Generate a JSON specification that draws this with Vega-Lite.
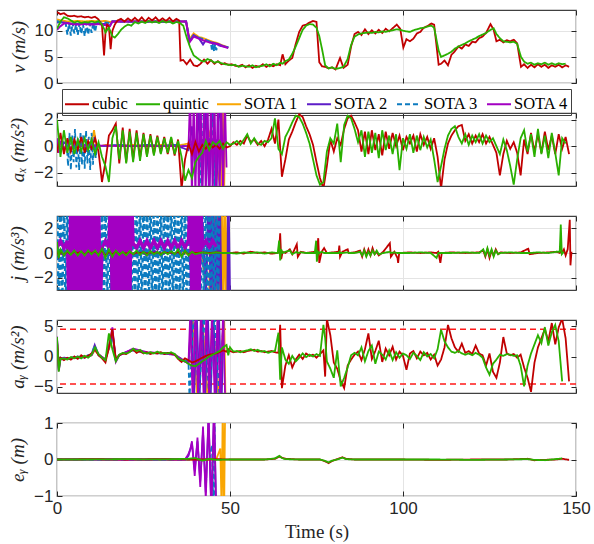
{
"$schema": "https://vega.github.io/schema/vega-lite/v6.json",
"padding": {"left": 8, "top": 8, "right": 5, "bottom": 5},
"background": "white",
"spacing": 30,
"bounds": "flush",
"config": {
"view": {"stroke": "#404040", "strokeWidth": 1.2},
"axis": {"domain": false, "grid": true, "gridColor": "#e4e4e4", "tickColor": "#262626", "tickSize": -5, "tickWidth": 1, "labelFont": "Liberation Sans, Arial, Helvetica, sans-serif", "labelFontSize": 17, "labelColor": "#262626", "labelPadding": 9, "labelFlush": false, "labelOverlap": false, "titleFont": "Liberation Serif, Times New Roman, Times, DejaVu Serif, serif", "titleFontSize": 19, "titleFontStyle": "italic", "titleFontWeight": "normal", "titleColor": "#262626", "titlePadding": 6},
"legend": {"symbolType": "stroke", "symbolSize": 576, "symbolStrokeWidth": 2, "labelFont": "Liberation Serif, Times New Roman, Times, DejaVu Serif, serif", "labelFontSize": 16.5, "labelColor": "black", "labelOffset": 2, "columnPadding": 4, "padding": 2, "strokeColor": "#404040", "fillColor": "white"}
},
"resolve": {"scale": {"color": "independent", "strokeDash": "independent"}, "legend": {"color": "independent", "strokeDash": "independent"}},
"datasets": {
"vC": [
{"t":0,"c":13.6,"q":10.4},{"t":1,"c":13.2,"q":11.8},{"t":2,"c":13.4,"q":12.6},{"t":3,"c":12.9,"q":12.4},{"t":4,"c":12.8,"q":12.0},{"t":5,"c":12.9,"q":11.6},{"t":6,"c":12.7,"q":11.8},{"t":7,"c":12.8,"q":11.5},{"t":8,"c":12.6,"q":11.7},{"t":9,"c":12.7,"q":11.6},{"t":10,"c":12.5,"q":11.8},{"t":11,"c":12.7,"q":11.6},{"t":12,"c":12.2,"q":11.9},{"t":13,"c":11.0,"q":11.2},{"t":13.6,"c":5.3,"q":10.4},{"t":14,"c":9.5,"q":9.7},{"t":14.5,"c":11.2,"q":10.2},{"t":15,"c":10.8,"q":10.6},{"t":15.5,"c":6.5,"q":9.8},{"t":16,"c":10.0,"q":9.0},{"t":16.7,"c":11.2,"q":8.7},{"t":17.5,"c":12.0,"q":9.3},{"t":18.5,"c":12.3,"q":10.2},{"t":19.5,"c":11.8,"q":10.8},{"t":20.5,"c":12.4,"q":11.2},{"t":21.5,"c":11.9,"q":11.0},{"t":22.5,"c":12.5,"q":11.7},{"t":23.5,"c":11.9,"q":11.4},{"t":24.5,"c":12.6,"q":11.8},{"t":25.5,"c":11.8,"q":11.5},{"t":26.5,"c":12.5,"q":11.9},{"t":27.5,"c":12.0,"q":11.6},{"t":28.5,"c":12.6,"q":11.8},{"t":29.5,"c":11.9,"q":11.5},{"t":30.5,"c":12.4,"q":11.9},{"t":31.5,"c":11.9,"q":11.6},{"t":32.5,"c":12.5,"q":11.8},{"t":33.5,"c":11.8,"q":11.4},{"t":34.5,"c":12.3,"q":11.7},{"t":35.3,"c":12.0,"q":11.6},{"t":35.7,"c":4.3,"q":11.4},{"t":36.5,"c":4.4,"q":11.0},{"t":37.5,"c":3.6,"q":8.7},{"t":38.5,"c":4.5,"q":6.8},{"t":39.5,"c":3.4,"q":5.3},{"t":40.5,"c":3.2,"q":4.8},{"t":41.5,"c":3.7,"q":4.3},{"t":42.5,"c":4.5,"q":4.1},{"t":43.5,"c":3.7,"q":4.6},{"t":44.5,"c":4.4,"q":4.3},{"t":45.5,"c":3.7,"q":3.9},{"t":46.5,"c":4.2,"q":4.1},{"t":47.5,"c":3.6,"q":3.8},{"t":48.5,"c":3.8,"q":3.6},{"t":49.5,"c":3.5,"q":3.5},{"t":50.5,"c":3.6,"q":3.4},{"t":51.5,"c":3.3,"q":3.5},{"t":52.5,"c":3.2,"q":3.1},{"t":53.5,"c":3.5,"q":3.3},{"t":54.5,"c":3.0,"q":3.2},{"t":55.5,"c":3.4,"q":3.1},{"t":56.5,"c":2.9,"q":3.4},{"t":57.5,"c":3.3,"q":3.0},{"t":58.5,"c":3.1,"q":3.2},{"t":59.5,"c":3.6,"q":3.3},{"t":60.5,"c":3.1,"q":3.6},{"t":61.5,"c":3.5,"q":3.2},{"t":62.5,"c":3.2,"q":3.7},{"t":63.5,"c":3.6,"q":3.4},{"t":64.5,"c":3.4,"q":3.9},{"t":65.2,"c":5.5,"q":3.7},{"t":66,"c":3.6,"q":4.2},{"t":67,"c":4.3,"q":4.5},{"t":68,"c":4.8,"q":5.6},{"t":69,"c":7.5,"q":7.0},{"t":70,"c":9.8,"q":8.6},{"t":71,"c":11.0,"q":10.2},{"t":72,"c":11.2,"q":11.0},{"t":73,"c":11.6,"q":11.3},{"t":74,"c":11.9,"q":11.2},{"t":75,"c":11.7,"q":10.6},{"t":75.8,"c":4.0,"q":9.0},{"t":76.6,"c":3.2,"q":6.5},{"t":77.5,"c":3.1,"q":3.4},{"t":78.5,"c":2.8,"q":2.8},{"t":79.5,"c":3.0,"q":3.0},{"t":80.5,"c":2.6,"q":2.7},{"t":81.8,"c":4.8,"q":2.9},{"t":82.8,"c":2.9,"q":3.1},{"t":84,"c":3.5,"q":4.6},{"t":85,"c":7.0,"q":7.3},{"t":86,"c":9.4,"q":8.9},{"t":87,"c":9.8,"q":9.3},{"t":88,"c":9.2,"q":9.5},{"t":89,"c":10.3,"q":9.6},{"t":90,"c":9.4,"q":9.7},{"t":91,"c":10.1,"q":9.6},{"t":92,"c":9.5,"q":9.8},{"t":93,"c":10.2,"q":9.7},{"t":94,"c":9.6,"q":9.9},{"t":95,"c":10.4,"q":9.8},{"t":96,"c":9.9,"q":10.0},{"t":97,"c":10.5,"q":10.1},{"t":98.2,"c":11.2,"q":10.3},{"t":99.2,"c":10.4,"q":10.2},{"t":100.1,"c":6.8,"q":10.0},{"t":101,"c":8.4,"q":9.9},{"t":102,"c":8.0,"q":9.8},{"t":103,"c":8.5,"q":10.1},{"t":104,"c":9.5,"q":10.3},{"t":105,"c":9.8,"q":10.5},{"t":106,"c":10.6,"q":10.6},{"t":107,"c":10.9,"q":10.8},{"t":108.2,"c":11.4,"q":11.0},{"t":109,"c":11.2,"q":10.6},{"t":110.3,"c":3.5,"q":6.2},{"t":111,"c":3.7,"q":5.0},{"t":112,"c":4.3,"q":5.3},{"t":113,"c":3.4,"q":5.6},{"t":114,"c":5.4,"q":6.0},{"t":115,"c":6.1,"q":6.6},{"t":116,"c":7.0,"q":7.0},{"t":117,"c":6.6,"q":7.3},{"t":118,"c":7.4,"q":7.6},{"t":119,"c":7.1,"q":8.0},{"t":120,"c":7.9,"q":8.3},{"t":121,"c":7.8,"q":8.6},{"t":122,"c":8.6,"q":9.0},{"t":123,"c":8.9,"q":9.3},{"t":124,"c":9.6,"q":9.6},{"t":125.3,"c":11.3,"q":10.2},{"t":126.2,"c":10.2,"q":10.5},{"t":127,"c":8.0,"q":9.4},{"t":128,"c":8.3,"q":8.6},{"t":129,"c":7.8,"q":8.0},{"t":130,"c":8.2,"q":7.9},{"t":131,"c":8.0,"q":7.8},{"t":132,"c":8.3,"q":7.9},{"t":133,"c":7.6,"q":7.5},{"t":134.1,"c":3.1,"q":5.0},{"t":135,"c":3.6,"q":4.1},{"t":136,"c":2.9,"q":3.7},{"t":137,"c":3.5,"q":3.9},{"t":138,"c":3.0,"q":3.5},{"t":139,"c":3.6,"q":3.8},{"t":140,"c":3.1,"q":3.6},{"t":141,"c":3.5,"q":3.9},{"t":142,"c":2.9,"q":3.5},{"t":143,"c":3.4,"q":3.8},{"t":144,"c":3.1,"q":3.5},{"t":145,"c":3.5,"q":3.8},{"t":146,"c":3.0,"q":3.6},{"t":147,"c":3.4,"q":3.7},{"t":148,"c":3.1}
],
"vS": [
{"t":0,"S1":12.2,"S2":11.6,"S3":11.9,"S4":10.2},{"t":1,"S1":12.0,"S2":11.7,"S3":11.6,"S4":10.9},{"t":2,"S1":11.9,"S2":11.6,"S3":11.4,"S4":11.4},{"t":2.5,"S3":11.5},{"t":3,"S1":11.8,"S2":11.5,"S3":9.3,"S4":11.5},{"t":3.5,"S3":11.4},{"t":4,"S1":11.8,"S2":11.4,"S3":9.1,"S4":11.3},{"t":4.5,"S3":11.6},{"t":5,"S3":9.5},{"t":5.5,"S3":11.2},{"t":6,"S1":11.9,"S2":11.3,"S3":9.2,"S4":11.2},{"t":6.5,"S3":11.5},{"t":7,"S3":9.4},{"t":7.5,"S3":11.3},{"t":8,"S1":11.8,"S2":11.4,"S3":9.0,"S4":11.3},{"t":8.5,"S3":11.6},{"t":9,"S3":9.3},{"t":9.5,"S3":11.4},{"t":10,"S1":11.9,"S2":11.3,"S3":9.6,"S4":11.2},{"t":10.5,"S3":11.5},{"t":11,"S3":9.8},{"t":11.5,"S3":11.6},{"t":12,"S1":11.8,"S2":11.4,"S3":11.7,"S4":11.3},{"t":14,"S1":11.9,"S2":11.3,"S3":11.6,"S4":11.1},{"t":15.3,"S1":11.7,"S2":11.0,"S3":11.5,"S4":10.9},{"t":16,"S1":11.8,"S2":11.8,"S3":11.8,"S4":11.8},{"t":25,"S1":11.8,"S2":11.8,"S3":11.7,"S4":11.8},{"t":37.3,"S1":11.8,"S2":11.8,"S3":11.8,"S4":11.8},{"t":38.3,"S1":8.4,"S2":8.0,"S3":8.2,"S4":7.8},{"t":39.5,"S1":9.5,"S2":9.2,"S3":9.0,"S4":8.9},{"t":41,"S1":8.8,"S2":8.6,"S3":8.7,"S4":8.5},{"t":42.2,"S1":8.6,"S2":7.4,"S3":8.4,"S4":8.2},{"t":43,"S1":8.4,"S2":8.2,"S3":8.2,"S4":8.0},{"t":44.5,"S1":8.0,"S2":7.8,"S3":7.8,"S4":7.7},{"t":44.8,"S3":6.2},{"t":45.1,"S3":7.6},{"t":45.4,"S3":6.1},{"t":45.7,"S3":7.5},{"t":46,"S3":6.3},{"t":46.5,"S1":7.6,"S2":7.5,"S3":7.3,"S4":7.4},{"t":47.5,"S1":7.3,"S2":7.2,"S3":7.1,"S4":7.1},{"t":49.5,"S1":6.8,"S2":6.8,"S3":6.8,"S4":6.7}
],
"axC": [
{"t":0,"c":-0.5,"q":2.0},{"t":1,"c":1.0,"q":-0.8},{"t":2,"c":-0.6,"q":1.2},{"t":3,"c":0.6,"q":-0.5},{"t":4,"c":-0.4,"q":0.7},{"t":5,"c":0.5,"q":-0.6},{"t":6,"c":-0.3,"q":0.5},{"t":7,"c":0.7,"q":-0.4},{"t":8,"c":-0.5,"q":0.6},{"t":9,"c":0.4,"q":-0.3},{"t":10,"c":-0.2,"q":0.5},{"t":11,"c":0.6,"q":-0.6},{"t":12,"c":-0.4,"q":0.3},{"t":13,"c":-2.7,"q":-0.8},{"t":14,"c":-1.2,"q":-1.5},{"t":15,"c":0.8,"q":-2.7},{"t":16,"c":1.2,"q":0.6},{"t":17,"c":1.7,"q":1.5},{"t":18,"c":-1.3,"q":-1.0},{"t":19,"c":1.4,"q":1.2},{"t":20,"c":-1.2,"q":-1.3},{"t":21,"c":1.3,"q":1.1},{"t":22,"c":-1.0,"q":-1.2},{"t":23,"c":1.2,"q":1.0},{"t":24,"c":-0.9,"q":-1.1},{"t":25,"c":1.0,"q":0.9},{"t":26,"c":-0.7,"q":-0.8},{"t":27,"c":0.9,"q":0.8},{"t":28,"c":-0.6,"q":-0.7},{"t":29,"c":0.8,"q":0.7},{"t":30,"c":-0.5,"q":-0.6},{"t":31,"c":0.7,"q":0.6},{"t":32,"c":-0.6,"q":-0.5},{"t":33,"c":0.6,"q":0.7},{"t":34,"c":-0.7,"q":-0.6},{"t":35,"c":0.5,"q":0.4},{"t":36,"c":-3.2,"q":-0.8},{"t":37,"c":-1.0,"q":-2.6},{"t":38,"c":0.2,"q":-1.8},{"t":39,"c":-0.6,"q":-2.4},{"t":40,"c":0.3,"q":-1.2},{"t":41,"c":-0.4,"q":-0.8},{"t":42,"c":0.1,"q":-0.5},{"t":43,"c":-0.2,"q":0.4},{"t":44,"c":0.2,"q":-0.3},{"t":45,"c":-0.1,"q":0.3},{"t":46,"c":0.1,"q":0.1},{"t":47,"c":-0.2,"q":0.4},{"t":48,"c":0.2,"q":-0.2},{"t":49,"c":-0.1,"q":0.3},{"t":50,"c":0.0,"q":0.1},{"t":51,"c":0.3,"q":0.2},{"t":52,"c":0.1,"q":0.4},{"t":53,"c":0.4,"q":0.1},{"t":54,"c":0.2,"q":0.5},{"t":55,"c":0.8,"q":0.9},{"t":56,"c":0.3,"q":0.2},{"t":57,"c":0.5,"q":0.6},{"t":58,"c":0.1,"q":0.2},{"t":59,"c":0.4,"q":0.1},{"t":60,"c":0.0,"q":0.4},{"t":61,"c":0.5,"q":0.3},{"t":62,"c":1.3,"q":0.6},{"t":63,"c":0.2,"q":2.1},{"t":64,"c":2.0,"q":-0.2},{"t":65,"c":-2.3,"q":-0.6},{"t":66,"c":-1.0,"q":0.7},{"t":67,"c":0.5,"q":1.2},{"t":68,"c":1.1,"q":1.8},{"t":69,"c":1.8,"q":2.3},{"t":70,"c":2.4,"q":2.2},{"t":71,"c":2.2,"q":1.7},{"t":72,"c":1.5,"q":1.0},{"t":73,"c":0.9,"q":0.2},{"t":74,"c":0.1,"q":-1.0},{"t":75,"c":-1.2,"q":-2.2},{"t":76,"c":-2.4,"q":-2.9},{"t":77,"c":-3.2,"q":-2.7},{"t":78,"c":-1.5,"q":-0.4},{"t":79,"c":0.5,"q":0.6},{"t":80,"c":-0.4,"q":0.2},{"t":81,"c":0.6,"q":1.7},{"t":82,"c":0.1,"q":-1.2},{"t":83,"c":1.3,"q":1.6},{"t":84,"c":2.1,"q":2.3},{"t":85,"c":2.3,"q":2.1},{"t":86,"c":1.8,"q":1.3},{"t":87,"c":1.2,"q":0.3},{"t":88,"c":-0.4,"q":1.2},{"t":89,"c":1.1,"q":-0.8},{"t":90,"c":-0.6,"q":1.1},{"t":91,"c":1.2,"q":-0.5},{"t":92,"c":-0.3,"q":1.0},{"t":93,"c":0.9,"q":-0.9},{"t":94,"c":-0.7,"q":1.2},{"t":95,"c":1.1,"q":-0.3},{"t":96,"c":-0.2,"q":0.8},{"t":97,"c":1.0,"q":-0.6},{"t":98,"c":0.0,"q":0.9},{"t":99,"c":0.8,"q":-1.8},{"t":100,"c":-0.3,"q":0.6},{"t":101,"c":0.7,"q":-0.2},{"t":102,"c":0.2,"q":0.9},{"t":103,"c":0.8,"q":-0.5},{"t":104,"c":-0.4,"q":0.8},{"t":105,"c":0.9,"q":-0.3},{"t":106,"c":0.1,"q":0.7},{"t":107,"c":0.7,"q":-0.1},{"t":108,"c":-0.2,"q":0.5},{"t":109,"c":0.6,"q":-1.0},{"t":110,"c":-0.8,"q":-2.7},{"t":111,"c":-3.2,"q":-1.5},{"t":112,"c":-1.0,"q":-0.2},{"t":113,"c":0.2,"q":0.8},{"t":114,"c":0.8,"q":1.3},{"t":115,"c":1.2,"q":1.5},{"t":116,"c":1.5,"q":0.7},{"t":117,"c":1.6,"q":0.2},{"t":118,"c":0.4,"q":0.9},{"t":119,"c":0.9,"q":0.1},{"t":120,"c":0.2,"q":0.8},{"t":121,"c":0.8,"q":0.3},{"t":122,"c":0.3,"q":0.9},{"t":123,"c":0.9,"q":0.2},{"t":124,"c":0.2,"q":0.8},{"t":125,"c":0.7,"q":0.3},{"t":126,"c":0.1,"q":0.6},{"t":127,"c":-0.5,"q":0.0},{"t":128,"c":-2.2,"q":-0.6},{"t":129,"c":-0.6,"q":0.5},{"t":130,"c":0.4,"q":-0.3},{"t":131,"c":-0.2,"q":-1.5},{"t":132,"c":0.3,"q":-2.9},{"t":133,"c":-0.5,"q":-1.0},{"t":134,"c":-2.2,"q":0.6},{"t":135,"c":0.5,"q":1.2},{"t":136,"c":-0.6,"q":-0.4},{"t":137,"c":1.0,"q":0.9},{"t":138,"c":-0.4,"q":-0.8},{"t":139,"c":0.9,"q":1.3},{"t":140,"c":-0.5,"q":-0.6},{"t":141,"c":1.1,"q":0.8},{"t":142,"c":-0.3,"q":-0.9},{"t":143,"c":0.8,"q":1.0},{"t":144,"c":-0.6,"q":-0.5},{"t":145,"c":0.9,"q":-2.2},{"t":146,"c":-0.2,"q":0.6},{"t":147,"c":0.7,"q":0.2},{"t":148,"c":-0.6}
],
"axS": [
{"t":0,"S1":0.3,"S2":0.5,"S3":0.2,"S4":0.6},{"t":0.5,"S4":-0.5},{"t":1,"S2":-0.4,"S3":-0.3,"S4":0.4},{"t":2,"S1":-0.2,"S2":0.3,"S3":0.1,"S4":-0.3},{"t":2.8,"S3":0.2},{"t":3,"S4":0.3},{"t":3.2,"S3":-1.5},{"t":3.6,"S3":1.0},{"t":4,"S1":0.2,"S2":-0.2,"S3":-1.8,"S4":-0.2},{"t":4.4,"S3":0.8},{"t":4.8,"S3":-1.2},{"t":5,"S4":0.2},{"t":5.2,"S3":1.3},{"t":5.6,"S3":-1.6},{"t":6,"S1":-0.1,"S2":0.2,"S3":0.6,"S4":-0.1},{"t":6.4,"S3":-1.8},{"t":6.8,"S3":1.1},{"t":7.2,"S3":-1.4},{"t":7.6,"S3":0.9},{"t":8,"S1":0.1,"S2":-0.1,"S3":-1.7,"S4":0.1},{"t":8.4,"S3":1.2},{"t":8.8,"S3":-1.3},{"t":9.2,"S3":0.7},{"t":9.6,"S3":-1.8},{"t":10,"S1":0.2,"S2":0.1,"S3":1.0,"S4":0},{"t":10.4,"S3":-1.4},{"t":10.7,"S1":1.2},{"t":10.8,"S3":0.8},{"t":11.2,"S3":-0.9},{"t":11.5,"S1":-0.1},{"t":11.6,"S3":0.1},{"t":14,"S1":0.1,"S2":0,"S3":0,"S4":0.05},{"t":18,"S1":0,"S2":0.1,"S3":0.1,"S4":0},{"t":22,"S1":0.1,"S2":0,"S3":0,"S4":0},{"t":26,"S1":0,"S2":0.1,"S3":0.1,"S4":0},{"t":30,"S1":0.1,"S2":0,"S3":0,"S4":0},{"t":34,"S1":0,"S2":0.1,"S3":0.1,"S4":0},{"t":38,"S1":0.2,"S2":-0.3,"S3":0,"S4":0},{"t":38.5,"S4":4},{"t":39,"S2":1.5,"S4":-4},{"t":39.5,"S4":4},{"t":40,"S1":0.5,"S2":-2,"S3":0.3,"S4":-4},{"t":40.5,"S4":4},{"t":41,"S2":2.5,"S3":-0.5,"S4":-4},{"t":41.3,"S3":-4},{"t":41.5,"S4":4},{"t":41.6,"S3":4},{"t":42,"S1":-1,"S2":-3,"S3":0,"S4":-4},{"t":42.5,"S4":4},{"t":43,"S2":3,"S4":-4},{"t":43.5,"S4":4},{"t":44,"S1":1,"S2":-4,"S3":0.5,"S4":-4},{"t":44.5,"S4":4},{"t":45,"S2":4,"S3":-0.5,"S4":-4},{"t":45.2,"S3":4},{"t":45.5,"S3":-4,"S4":4},{"t":46,"S1":-1,"S2":-4,"S3":0.5,"S4":-4},{"t":46.5,"S4":4},{"t":47,"S2":4,"S3":-0.3,"S4":-4},{"t":47.5,"S4":4},{"t":47.6,"S1":-4},{"t":47.9,"S1":4},{"t":48,"S2":-2,"S4":-4},{"t":48.3,"S1":-4},{"t":48.5,"S4":4},{"t":48.6,"S1":3},{"t":49,"S4":-1.6}
],
"jC": [
{"t":0,"c":0.2,"q":0.9},{"t":0.5,"c":-0.3,"q":-0.4},{"t":1,"c":0.1,"q":0.3},{"t":2,"c":-0.1,"q":-0.2},{"t":3,"c":0.1,"q":0.2},{"t":4,"c":-0.1,"q":-0.15},{"t":5,"c":0.1,"q":0.2},{"t":6,"c":0,"q":-0.2},{"t":7,"c":0.1,"q":0.15},{"t":8,"c":-0.1,"q":-0.2},{"t":9,"c":0.1,"q":0.2},{"t":10,"c":0,"q":-0.1},{"t":11,"c":0.1,"q":0.2},{"t":12,"c":-0.1,"q":-0.2},{"t":13,"c":0.2,"q":0.35},{"t":14,"c":-0.2,"q":-0.4},{"t":15,"c":0.1,"q":0.3},{"t":16,"c":-0.1,"q":-0.3},{"t":17,"c":0.1,"q":0.2},{"t":18,"c":-0.1,"q":-0.15},{"t":19,"c":0.05,"q":0.1},{"t":20,"c":-0.05,"q":-0.2},{"t":21,"c":0.1,"q":0.15},{"t":22,"c":-0.1,"q":-0.1},{"t":23,"c":0.05,"q":0.2},{"t":24,"c":0,"q":-0.15},{"t":25,"c":0.05,"q":0.1},{"t":26,"c":-0.05,"q":-0.2},{"t":27,"c":0.05,"q":0.15},{"t":28,"c":0,"q":-0.1},{"t":29,"c":0.05,"q":0.1},{"t":30,"c":-0.05,"q":-0.15},{"t":31,"c":0.05,"q":0.1},{"t":32,"c":0,"q":-0.1},{"t":33,"c":0.05,"q":0.15},{"t":34,"c":-0.05,"q":-0.1},{"t":35,"c":0.1,"q":0.3},{"t":36,"c":-0.2,"q":-0.3},{"t":37,"c":0.1,"q":0.2},{"t":38,"c":-0.1,"q":-0.2},{"t":39,"c":0.05,"q":0.1},{"t":40,"c":0,"q":-0.1},{"t":42,"c":0.05,"q":0.05},{"t":44,"c":0,"q":-0.05},{"t":46,"c":0.05,"q":0.05},{"t":48,"c":0,"q":0},{"t":50,"c":0,"q":0},{"t":52,"c":0.05,"q":-0.05},{"t":54,"c":-0.05,"q":0.05},{"t":56,"c":0.1,"q":0},{"t":58,"c":0,"q":0.05},{"t":60,"c":0.05,"q":-0.05},{"t":62,"c":-0.05,"q":0.05},{"t":63.8,"c":0,"q":0},{"t":64.2,"c":0.2,"q":1.0},{"t":64.5,"c":1.6,"q":-0.6},{"t":64.8,"c":-0.5,"q":0.3},{"t":65.2,"c":0.1,"q":0},{"t":66,"c":0,"q":0.1},{"t":67.3,"c":0.3,"q":0.2},{"t":68,"c":-0.1,"q":-0.1},{"t":69.3,"c":0.7,"q":0.1},{"t":69.6,"c":-0.3,"q":0},{"t":70.5,"c":0.1,"q":0.05},{"t":72,"c":0,"q":0},{"t":74.5,"c":0.1,"q":0},{"t":74.9,"c":0,"q":1.0},{"t":75.1,"c":0.1,"q":-0.7},{"t":75.5,"c":1.2,"q":0.1},{"t":75.8,"c":-0.8,"q":0},{"t":76.5,"c":0.1,"q":0.1},{"t":77.2,"c":0.4,"q":0},{"t":78,"c":0,"q":0},{"t":81.4,"c":0.1,"q":0},{"t":81.6,"c":0.6,"q":0.1},{"t":81.8,"c":-0.3,"q":0},{"t":82.5,"c":0.1,"q":0},{"t":84,"c":0.3,"q":0.05},{"t":84.3,"c":0,"q":0},{"t":86,"c":0.05,"q":0},{"t":87.6,"c":0.2,"q":0.1},{"t":88.2,"c":-0.3,"q":-0.2},{"t":88.8,"c":0.3,"q":0.2},{"t":89.4,"c":-0.2,"q":-0.3},{"t":90,"c":0.3,"q":0.1},{"t":90.6,"c":-0.2,"q":-0.2},{"t":91.2,"c":0.4,"q":0.2},{"t":91.8,"c":-0.1,"q":-0.1},{"t":92.4,"c":0.1,"q":0.2},{"t":93,"c":-0.2,"q":-0.1},{"t":94.3,"c":0.1,"q":0},{"t":96.2,"c":0.8,"q":0.1},{"t":96.5,"c":-0.3,"q":0},{"t":97.5,"c":0.1,"q":0.05},{"t":98.4,"c":-0.4,"q":0},{"t":98.6,"c":-0.8,"q":0},{"t":98.9,"c":0,"q":0},{"t":102,"c":0.05,"q":0},{"t":105,"c":0,"q":0.05},{"t":108,"c":0.05,"q":0},{"t":109.7,"c":0,"q":-0.4},{"t":110.2,"c":0.1,"q":0},{"t":110.8,"c":-0.8,"q":0},{"t":111.2,"c":0,"q":0},{"t":114,"c":0.05,"q":0},{"t":118,"c":0,"q":0.05},{"t":122,"c":0.05,"q":0},{"t":123.2,"c":0.2,"q":0.3},{"t":123.8,"c":-0.3,"q":-0.2},{"t":124.4,"c":0.3,"q":0.4},{"t":125,"c":-0.4,"q":-0.2},{"t":125.6,"c":0.2,"q":0.3},{"t":126.2,"c":-0.2,"q":-0.3},{"t":126.8,"c":0.3,"q":0.2},{"t":127.5,"c":-0.1,"q":-0.1},{"t":128.2,"c":0.05,"q":0},{"t":131,"c":0,"q":0.05},{"t":134,"c":0.05,"q":0},{"t":136.2,"c":0.35,"q":0},{"t":136.6,"c":-0.1,"q":0},{"t":139,"c":0,"q":0.05},{"t":142,"c":0.05,"q":0},{"t":144.4,"c":0.1,"q":0.1},{"t":145.3,"c":0,"q":0.1},{"t":145.6,"c":0.1,"q":2.3},{"t":145.9,"c":0,"q":-0.1},{"t":146.5,"c":0.3,"q":0.1},{"t":147,"c":-0.2},{"t":147.6,"c":0.3},{"t":148.2,"c":2.7},{"t":148.4,"c":-1.0},{"t":148.7,"c":0.1}
],
"jS": [
{"t":0,"S1":0.1,"S2":0.2,"S3":5,"S4":0.4},{"t":0.5,"S3":-5},{"t":1,"S3":5,"S4":1.0},{"t":1.5,"S3":-5},{"t":2,"S1":-0.1,"S2":-0.2,"S3":5,"S4":0.4},{"t":2.5,"S3":-5},{"t":3,"S3":5,"S4":1.0},{"t":3.5,"S3":-5,"S4":-5},{"t":4,"S1":0.1,"S2":0.2,"S3":5,"S4":5},{"t":4.5,"S3":-5,"S4":-5},{"t":5,"S3":5,"S4":5},{"t":5.5,"S3":-5,"S4":-5},{"t":6,"S1":-0.1,"S2":-0.2,"S3":5,"S4":5},{"t":6.5,"S3":-5,"S4":-5},{"t":7,"S3":5,"S4":5},{"t":7.5,"S3":-5,"S4":-5},{"t":8,"S1":0.1,"S2":0.2,"S3":5,"S4":5},{"t":8.5,"S3":-5,"S4":-5},{"t":9,"S3":5,"S4":5},{"t":9.5,"S3":-5,"S4":-5},{"t":10,"S1":-0.1,"S2":-0.2,"S3":5,"S4":5},{"t":10.5,"S3":-5,"S4":-5},{"t":11,"S3":5,"S4":5},{"t":11.5,"S3":-5,"S4":-5},{"t":12,"S1":0.1,"S2":0.2,"S3":5,"S4":5},{"t":12.5,"S3":-5,"S4":-5},{"t":13,"S3":5,"S4":0.4},{"t":13.5,"S3":-5},{"t":14,"S1":-0.1,"S2":-0.2,"S3":5,"S4":1.0},{"t":14.5,"S3":-5},{"t":15,"S3":5,"S4":0.4},{"t":15.5,"S3":-5,"S4":5},{"t":16,"S1":0.1,"S2":0.2,"S3":5,"S4":-5},{"t":16.5,"S3":-5,"S4":5},{"t":17,"S3":5,"S4":-5},{"t":17.5,"S3":-5,"S4":5},{"t":18,"S1":-0.1,"S2":-0.2,"S3":5,"S4":-5},{"t":18.5,"S3":-5,"S4":5},{"t":19,"S3":5,"S4":-5},{"t":19.5,"S3":-5,"S4":5},{"t":20,"S1":0.1,"S2":0.2,"S3":5,"S4":-5},{"t":20.5,"S3":-5,"S4":5},{"t":21,"S3":5,"S4":-5},{"t":21.5,"S3":-5,"S4":5},{"t":22,"S1":-0.1,"S2":-0.2,"S3":5,"S4":0.8},{"t":22.5,"S3":-5},{"t":23,"S3":5,"S4":0.4},{"t":23.5,"S3":-5},{"t":24,"S1":0.1,"S2":0.2,"S3":5,"S4":1.0},{"t":24.5,"S3":-5},{"t":25,"S3":5,"S4":0.4},{"t":25.5,"S3":-5},{"t":26,"S1":-0.1,"S2":-0.2,"S3":5,"S4":1.0},{"t":26.5,"S3":-5},{"t":27,"S3":5,"S4":0.4},{"t":27.5,"S3":-5},{"t":28,"S1":0.1,"S2":0.2,"S3":5,"S4":1.0},{"t":28.5,"S3":-5},{"t":29,"S3":5,"S4":0.4},{"t":29.5,"S3":-5},{"t":30,"S1":-0.1,"S2":-0.2,"S3":5,"S4":1.0},{"t":30.5,"S3":-5},{"t":31,"S3":5,"S4":0.4},{"t":31.5,"S3":-5},{"t":32,"S1":0.1,"S2":0.2,"S3":5,"S4":1.0},{"t":32.5,"S3":-5},{"t":33,"S3":5,"S4":0.4},{"t":33.5,"S3":-5},{"t":34,"S1":-0.1,"S2":-0.2,"S3":5,"S4":1.0},{"t":34.5,"S3":-5},{"t":35,"S3":5,"S4":0.4},{"t":35.5,"S3":-5},{"t":36,"S1":0.1,"S2":0.2,"S3":5,"S4":1.0},{"t":36.5,"S3":-5},{"t":37,"S3":5,"S4":0.4},{"t":37.5,"S3":-5},{"t":38,"S1":-0.1,"S2":0.2,"S3":5,"S4":1.0},{"t":38.5,"S3":-5,"S4":5},{"t":39,"S2":-2,"S3":5,"S4":-5},{"t":39.5,"S3":-5,"S4":5},{"t":40,"S1":0.2,"S2":2,"S3":5,"S4":-5},{"t":40.5,"S3":-5,"S4":5},{"t":41,"S2":-2.5,"S3":5,"S4":-5},{"t":41.5,"S3":-5,"S4":5},{"t":42,"S1":-0.3,"S2":2.5,"S3":5,"S4":0.5},{"t":42.5,"S3":-5},{"t":43,"S2":-3,"S3":5,"S4":1.0},{"t":43.5,"S3":-5},{"t":44,"S1":-5,"S2":5,"S3":5,"S4":0.5},{"t":44.5,"S1":5,"S2":-5,"S3":-5},{"t":45,"S1":-5,"S2":5,"S3":5,"S4":1.0},{"t":45.5,"S1":5,"S2":-5,"S3":-5},{"t":46,"S1":-5,"S2":5,"S3":5,"S4":0.5},{"t":46.5,"S1":5,"S2":-5,"S3":-5},{"t":47,"S1":-5,"S2":5,"S3":5},{"t":47.5,"S1":5,"S2":-5},{"t":48,"S1":-5},{"t":48.5,"S1":5},{"t":49,"S1":-5},{"t":49.3,"S2":-5},{"t":49.5,"S1":4,"S2":5},{"t":50,"S2":-5}
],
"ayC": [
{"t":0,"c":2.5,"q":3.2},{"t":0.5,"c":-1.5,"q":-2.5},{"t":1,"c":-0.2,"q":-0.4},{"t":2,"c":-0.6,"q":-0.3},{"t":3,"c":-0.2,"q":-0.5},{"t":4,"c":-0.5,"q":-0.1},{"t":5,"c":0.0,"q":-0.3},{"t":6,"c":-0.4,"q":0.0},{"t":7,"c":0.2,"q":-0.3},{"t":8,"c":-0.2,"q":0.1},{"t":9,"c":0.1,"q":-0.2},{"t":10,"c":0.5,"q":0.3},{"t":11,"c":1.2,"q":1.5},{"t":12,"c":0.2,"q":0.4},{"t":13,"c":-0.3,"q":-0.2},{"t":14,"c":-1.0,"q":-0.6},{"t":15,"c":1.5,"q":3.8},{"t":16,"c":4.5,"q":1.2},{"t":17,"c":-0.5,"q":-0.8},{"t":18,"c":0.2,"q":0.3},{"t":19,"c":0.5,"q":0.6},{"t":20,"c":0.4,"q":0.5},{"t":21,"c":0.8,"q":0.7},{"t":22,"c":1.1,"q":1.3},{"t":23,"c":0.6,"q":0.9},{"t":24,"c":0.9,"q":1.1},{"t":25,"c":0.5,"q":0.6},{"t":26,"c":0.7,"q":0.5},{"t":27,"c":0.4,"q":0.7},{"t":28,"c":0.6,"q":0.5},{"t":29,"c":0.5,"q":0.8},{"t":30,"c":0.7,"q":0.5},{"t":31,"c":0.4,"q":0.6},{"t":32,"c":0.6,"q":0.5},{"t":33,"c":0.5,"q":0.7},{"t":34,"c":0.3,"q":0.4},{"t":35,"c":-0.4,"q":-0.3},{"t":36,"c":-0.9,"q":-0.6},{"t":37,"c":-0.3,"q":-0.8},{"t":38,"c":-0.6,"q":-1.2},{"t":39,"c":-1.0,"q":-1.5},{"t":40,"c":-0.8,"q":-1.6},{"t":41,"c":-0.5,"q":-1.2},{"t":42,"c":-0.2,"q":-0.8},{"t":43,"c":0.1,"q":-0.4},{"t":44,"c":0.3,"q":0.0},{"t":45,"c":0.4,"q":0.3},{"t":46,"c":0.5,"q":0.6},{"t":47,"c":0.7,"q":0.9},{"t":48,"c":1.0,"q":1.5},{"t":49,"c":0.8,"q":1.9},{"t":49.5,"c":1.2,"q":0.2},{"t":50,"c":0.9,"q":1.5},{"t":51,"c":0.7,"q":0.8},{"t":52,"c":0.8,"q":0.9},{"t":53,"c":0.9,"q":0.7},{"t":54,"c":0.7,"q":0.9},{"t":55,"c":0.9,"q":1.0},{"t":56,"c":1.0,"q":1.2},{"t":57,"c":1.1,"q":0.9},{"t":58,"c":0.8,"q":1.1},{"t":59,"c":0.9,"q":0.8},{"t":60,"c":0.7,"q":0.9},{"t":61,"c":0.8,"q":0.6},{"t":62,"c":0.9,"q":0.8},{"t":63,"c":0.7,"q":0.9},{"t":64,"c":0.6,"q":3.9},{"t":64.5,"c":5.2,"q":-3.8},{"t":65,"c":-5.2,"q":1.5},{"t":66,"c":-1.5,"q":-0.5},{"t":67,"c":0.2,"q":-1.2},{"t":68,"c":-1.8,"q":0.1},{"t":69,"c":-0.5,"q":-0.8},{"t":70,"c":0.3,"q":-0.2},{"t":71,"c":-0.4,"q":0.5},{"t":72,"c":0.5,"q":-0.1},{"t":73,"c":0.1,"q":0.3},{"t":74,"c":0.3,"q":0.0},{"t":75,"c":-0.2,"q":0.4},{"t":76,"c":0.4,"q":0.1},{"t":77,"c":1.0,"q":5.2},{"t":77.5,"c":-3.3,"q":3.0},{"t":78,"c":6.2,"q":-0.8},{"t":79,"c":3.5,"q":-2.0},{"t":80,"c":-1.0,"q":-3.5},{"t":81,"c":-2.0,"q":1.0},{"t":82,"c":-4.0,"q":-4.9},{"t":83,"c":-5.2,"q":-3.5},{"t":84,"c":-1.5,"q":-1.8},{"t":85,"c":-0.5,"q":0.2},{"t":86,"c":0.3,"q":0.6},{"t":87,"c":0.8,"q":0.2},{"t":88,"c":-0.6,"q":1.5},{"t":89,"c":1.2,"q":-0.8},{"t":90,"c":3.8,"q":0.9},{"t":91,"c":-0.4,"q":1.8},{"t":92,"c":0.9,"q":-1.2},{"t":93,"c":2.6,"q":0.8},{"t":94,"c":-0.9,"q":0.3},{"t":95,"c":1.3,"q":-0.5},{"t":96,"c":0.2,"q":1.0},{"t":97,"c":1.6,"q":-0.6},{"t":98,"c":-0.5,"q":0.7},{"t":99,"c":0.8,"q":-0.2},{"t":100,"c":0.1,"q":0.5},{"t":101,"c":-2.2,"q":0.2},{"t":102,"c":0.5,"q":-0.4},{"t":103,"c":0.9,"q":0.6},{"t":104,"c":-0.3,"q":0.1},{"t":105,"c":0.8,"q":-0.6},{"t":106,"c":0.2,"q":0.7},{"t":107,"c":0.6,"q":0.0},{"t":108,"c":-0.5,"q":0.4},{"t":109,"c":0.3,"q":-0.3},{"t":110,"c":-1.5,"q":1.2},{"t":111,"c":-0.5,"q":4.4},{"t":112,"c":1.5,"q":2.5},{"t":113,"c":5.2,"q":1.5},{"t":114,"c":3.0,"q":0.8},{"t":115,"c":1.5,"q":0.6},{"t":116,"c":0.8,"q":0.9},{"t":117,"c":2.1,"q":0.5},{"t":118,"c":0.6,"q":0.3},{"t":119,"c":0.9,"q":0.5},{"t":120,"c":0.4,"q":0.2},{"t":121,"c":1.8,"q":0.6},{"t":122,"c":0.5,"q":0.3},{"t":123,"c":0.2,"q":-0.2},{"t":124,"c":-1.5,"q":-1.8},{"t":125,"c":0.5,"q":-3.0},{"t":126,"c":-2.5,"q":-1.2},{"t":127,"c":-3.5,"q":-0.5},{"t":128,"c":-1.0,"q":0.3},{"t":129,"c":3.2,"q":0.1},{"t":130,"c":0.5,"q":0.4},{"t":131,"c":0.2,"q":0.3},{"t":132,"c":0.4,"q":0.1},{"t":133,"c":-0.2,"q":0.2},{"t":134,"c":0.3,"q":-1.5},{"t":135,"c":-1.8,"q":-4.9},{"t":136,"c":-3.5,"q":-1.5},{"t":137,"c":-5.8,"q":0.5},{"t":138,"c":-1.0,"q":2.0},{"t":139,"c":1.5,"q":3.5},{"t":140,"c":3.0,"q":2.2},{"t":141,"c":4.5,"q":4.8},{"t":142,"c":2.5,"q":1.8},{"t":143,"c":5.5,"q":4.0},{"t":144,"c":2.0,"q":5.2},{"t":145,"c":4.8,"q":2.5},{"t":146,"c":6.2,"q":-4.1},{"t":147,"c":3.0},{"t":148,"c":-4.1}
],
"ayS": [
{"t":0,"S1":2.8,"S2":3.0,"S3":2.5,"S4":3.3},{"t":0.5,"S1":-2.0,"S2":-2.2,"S3":-1.8,"S4":-2.4},{"t":1,"S1":-0.3,"S2":-0.4,"S3":-0.2,"S4":-0.5},{"t":2,"S1":-0.4,"S2":-0.2,"S3":-0.5,"S4":-0.3},{"t":4,"S1":-0.2,"S2":-0.3,"S3":-0.1,"S4":-0.4},{"t":6,"S1":-0.1,"S2":0.0,"S3":-0.3,"S4":-0.1},{"t":8,"S1":0.0,"S2":-0.2,"S3":0.1,"S4":-0.1},{"t":10,"S1":0.2,"S2":0.4,"S3":0.3,"S4":0.2},{"t":10.9,"S1":1.0,"S2":1.9,"S3":1.8,"S4":1.2},{"t":12,"S1":0.3,"S2":0.3,"S3":0.2,"S4":0.4},{"t":14,"S1":-0.4,"S2":-0.5,"S3":-0.3,"S4":-0.6},{"t":15.5,"S1":2.0,"S2":2.5,"S3":2.2,"S4":3.0},{"t":16,"S1":4.0,"S2":4.2,"S3":3.8,"S4":4.8},{"t":17,"S1":-0.5,"S2":-0.7,"S3":-0.6,"S4":-0.9},{"t":18,"S1":0.3,"S2":0.2,"S3":0.3,"S4":0.2},{"t":22,"S1":1.1,"S2":1.2,"S3":1.0,"S4":1.3},{"t":26,"S1":0.6,"S2":0.6,"S3":0.5,"S4":0.7},{"t":30,"S1":0.6,"S2":0.5,"S3":0.6,"S4":0.6},{"t":34,"S1":0.4,"S2":0.3,"S3":0.4,"S4":0.3},{"t":36,"S1":-0.5,"S2":-0.4,"S3":-0.6,"S4":-0.5},{"t":37,"S1":-0.7,"S2":-0.8,"S3":-0.6,"S4":-0.9},{"t":38,"S1":-0.8,"S2":-1.2,"S3":-0.8,"S4":-1.0},{"t":38.3,"S3":-7},{"t":38.5,"S4":6.8},{"t":38.9,"S2":7},{"t":39.2,"S1":7,"S4":-7},{"t":39.5,"S3":7},{"t":39.6,"S2":-7},{"t":40,"S4":7},{"t":40.4,"S2":7},{"t":40.5,"S1":-7},{"t":40.8,"S4":-7},{"t":41,"S3":-7},{"t":41.2,"S2":-7},{"t":41.6,"S4":7},{"t":42,"S1":7,"S2":7},{"t":42.4,"S4":-7},{"t":42.5,"S3":7},{"t":42.8,"S2":-7},{"t":43.2,"S4":7},{"t":43.5,"S1":-7},{"t":43.6,"S2":7},{"t":44,"S3":-7,"S4":-7},{"t":44.4,"S2":-7},{"t":44.8,"S4":7},{"t":45,"S1":7},{"t":45.2,"S2":7},{"t":45.5,"S3":7},{"t":45.6,"S4":-7},{"t":46,"S2":-7},{"t":46.4,"S4":7},{"t":46.5,"S1":-7},{"t":46.8,"S2":7},{"t":47,"S3":-7},{"t":47.2,"S4":-7},{"t":47.6,"S2":-7},{"t":48,"S4":7},{"t":48.2,"S2":7,"S3":7},{"t":48.3,"S1":7},{"t":48.6,"S4":-7},{"t":48.7,"S1":-7}
],
"eyC": [
{"t":0,"c":0,"q":0},{"t":10,"c":0.01,"q":0},{"t":20,"c":0,"q":0.01},{"t":30,"c":0.01,"q":0},{"t":38,"c":0,"q":0.02},{"t":40,"c":0,"q":0.04},{"t":42,"c":0,"q":-0.03},{"t":44,"c":0,"q":0.02},{"t":46,"c":0.01,"q":-0.01},{"t":50,"c":0,"q":0},{"t":60,"c":0,"q":0},{"t":63,"c":0.02,"q":0.03},{"t":64.3,"c":0.08,"q":0.1},{"t":65,"c":0.05,"q":0.04},{"t":66,"c":0.02,"q":0.01},{"t":70,"c":0,"q":0},{"t":76,"c":0,"q":0},{"t":77.5,"c":-0.05,"q":-0.04},{"t":78.5,"c":-0.1,"q":-0.08},{"t":79.5,"c":-0.04,"q":-0.03},{"t":81,"c":0.01,"q":0},{"t":82.5,"c":0.06,"q":0.05},{"t":83.5,"c":0.02,"q":0.01},{"t":86,"c":0,"q":0},{"t":100,"c":0,"q":0},{"t":110,"c":-0.01,"q":0},{"t":120,"c":0,"q":-0.01},{"t":130,"c":0,"q":0},{"t":136,"c":0.02,"q":0.01},{"t":138,"c":-0.02,"q":-0.01},{"t":141,"c":-0.01,"q":-0.02},{"t":144,"c":0,"q":0.01},{"t":146,"c":0.02,"q":0.03},{"t":148,"c":-0.01}
],
"eyS": [
{"t":0,"S1":0,"S2":0,"S3":0,"S4":0},{"t":37,"S1":0,"S2":0,"S3":0,"S4":0},{"t":38,"S2":0.1,"S4":0.15},{"t":38.6,"S4":0.3},{"t":39,"S2":0.45,"S4":0.5},{"t":39.8,"S2":-0.3,"S4":-0.45},{"t":40.6,"S2":0.5,"S4":0.6},{"t":41.4,"S2":-0.6,"S4":-0.75},{"t":42.2,"S2":0.75,"S4":0.9},{"t":43,"S2":-0.9,"S4":-1.1},{"t":43.8,"S2":1.1,"S4":1.3},{"t":44,"S3":0},{"t":44.6,"S2":-1.3,"S4":-1.5},{"t":44.8,"S3":0.4},{"t":45.2,"S3":-1.5},{"t":45.4,"S2":1.4,"S4":1.5},{"t":45.5,"S3":1.5},{"t":45.8,"S3":-1.5},{"t":46,"S1":0,"S2":-1.5,"S4":-1.5},{"t":47.2,"S1":0.3},{"t":47.6,"S1":-1.5},{"t":47.9,"S1":1.5},{"t":48.3,"S1":-1.5},{"t":48.6,"S1":1.5}
]
},
"vconcat": [
{"width": 519, "height": 73,
"resolve": {"axis": {"x": "independent", "y": "independent"}},
"layer": [
{"data": {"name": "vS"}, "transform": [{"fold": ["S1","S2","S3","S4"], "as": ["s","y"]}, {"filter": "isValid(datum.y)"}], "mark": {"type": "line", "clip": true, "strokeWidth": 2},
"encoding": {
"x": {"field": "t", "type": "quantitative", "scale": {"domain": [0,150], "nice": false}, "axis": {"orient": "bottom", "values": [0,50,100,150], "labels": false, "title": null}},
"y": {"field": "y", "type": "quantitative", "scale": {"domain": [0,14], "nice": false, "zero": false}, "axis": {"orient": "left", "values": [0,5,10], "title": "v (m/s)"}},
"color": {"field": "s", "type": "nominal", "scale": {"domain": ["c","q","S1","S2","S3","S4"], "range": ["#c00000","#2ab000","#f9a602","#5d1dc8","#0c7bc0","#a300c2"]}, "legend": {"orient": "none", "legendX": 5, "legendY": 79, "direction": "horizontal", "title": null, "labelExpr": "datum.label=='c'?'cubic':datum.label=='q'?'quintic':'SOTA '+substring(datum.label,1)"}},
"strokeDash": {"field": "s", "type": "nominal", "scale": {"domain": ["c","q","S1","S2","S3","S4"], "range": [[1,0],[1,0],[1,0],[1,0],[5,3],[1,0]]}, "legend": {"orient": "none", "legendX": 5, "legendY": 79, "direction": "horizontal", "title": null, "labelExpr": "datum.label=='c'?'cubic':datum.label=='q'?'quintic':'SOTA '+substring(datum.label,1)"}}
}},
{"data": {"name": "vC"}, "transform": [{"fold": ["c","q"], "as": ["s","y"]}, {"filter": "isValid(datum.y)"}], "mark": {"type": "line", "clip": true, "strokeWidth": 1.8},
"encoding": {
"x": {"field": "t", "type": "quantitative", "scale": {"domain": [0,150], "nice": false}, "axis": {"orient": "top", "values": [0,50,100,150], "labels": false, "title": null, "grid": false}},
"y": {"field": "y", "type": "quantitative", "scale": {"domain": [0,14], "nice": false, "zero": false}, "axis": {"orient": "right", "values": [0,5,10], "labels": false, "title": null, "grid": false}},
"color": {"field": "s", "type": "nominal", "scale": {"domain": ["c","q","S1","S2","S3","S4"], "range": ["#c00000","#2ab000","#f9a602","#5d1dc8","#0c7bc0","#a300c2"]}, "legend": {"orient": "none", "legendX": 5, "legendY": 79, "direction": "horizontal", "title": null, "labelExpr": "datum.label=='c'?'cubic':datum.label=='q'?'quintic':'SOTA '+substring(datum.label,1)"}},
"strokeDash": {"field": "s", "type": "nominal", "scale": {"domain": ["c","q","S1","S2","S3","S4"], "range": [[1,0],[1,0],[1,0],[1,0],[5,3],[1,0]]}, "legend": {"orient": "none", "legendX": 5, "legendY": 79, "direction": "horizontal", "title": null, "labelExpr": "datum.label=='c'?'cubic':datum.label=='q'?'quintic':'SOTA '+substring(datum.label,1)"}}
}}
]},
{"width": 519, "height": 73,
"resolve": {"axis": {"x": "independent", "y": "independent"}},
"layer": [
{"data": {"name": "axS"}, "transform": [{"fold": ["S1","S2","S3","S4"], "as": ["s","y"]}, {"filter": "isValid(datum.y)"}], "mark": {"type": "line", "clip": true, "strokeWidth": 1.8},
"encoding": {
"x": {"field": "t", "type": "quantitative", "scale": {"domain": [0,150], "nice": false}, "axis": {"orient": "bottom", "values": [0,50,100,150], "labels": false, "title": null}},
"y": {"field": "y", "type": "quantitative", "scale": {"domain": [-3,2.5], "nice": false, "zero": false}, "axis": {"orient": "left", "values": [-2,0,2], "title": "aₓ (m/s²)"}},
"color": {"field": "s", "type": "nominal", "scale": {"domain": ["c","q","S1","S2","S3","S4"], "range": ["#c00000","#2ab000","#f9a602","#5d1dc8","#0c7bc0","#a300c2"]}, "legend": null},
"strokeDash": {"field": "s", "type": "nominal", "scale": {"domain": ["c","q","S1","S2","S3","S4"], "range": [[1,0],[1,0],[1,0],[1,0],[5,3],[1,0]]}, "legend": null}
}},
{"data": {"name": "axC"}, "transform": [{"fold": ["c","q"], "as": ["s","y"]}, {"filter": "isValid(datum.y)"}], "mark": {"type": "line", "clip": true, "strokeWidth": 1.8},
"encoding": {
"x": {"field": "t", "type": "quantitative", "scale": {"domain": [0,150], "nice": false}, "axis": {"orient": "top", "values": [0,50,100,150], "labels": false, "title": null, "grid": false}},
"y": {"field": "y", "type": "quantitative", "scale": {"domain": [-3,2.5], "nice": false, "zero": false}, "axis": {"orient": "right", "values": [-2,0,2], "labels": false, "title": null, "grid": false}},
"color": {"field": "s", "type": "nominal", "scale": {"domain": ["c","q","S1","S2","S3","S4"], "range": ["#c00000","#2ab000","#f9a602","#5d1dc8","#0c7bc0","#a300c2"]}, "legend": null},
"strokeDash": {"field": "s", "type": "nominal", "scale": {"domain": ["c","q","S1","S2","S3","S4"], "range": [[1,0],[1,0],[1,0],[1,0],[5,3],[1,0]]}, "legend": null}
}}
]},
{"width": 519, "height": 74,
"resolve": {"axis": {"x": "independent", "y": "independent"}},
"layer": [
{"data": {"name": "jS"}, "transform": [{"fold": ["S1","S2","S3"], "as": ["s","y"]}, {"filter": "isValid(datum.y)"}], "mark": {"type": "line", "clip": true, "strokeWidth": 2.4},
"encoding": {
"x": {"field": "t", "type": "quantitative", "scale": {"domain": [0,150], "nice": false}, "axis": {"orient": "bottom", "values": [0,50,100,150], "labels": false, "title": null}},
"y": {"field": "y", "type": "quantitative", "scale": {"domain": [-3,3], "nice": false, "zero": false}, "axis": {"orient": "left", "values": [-2,0,2], "title": "j (m/s³)"}},
"color": {"field": "s", "type": "nominal", "scale": {"domain": ["c","q","S1","S2","S3","S4"], "range": ["#c00000","#2ab000","#f9a602","#5d1dc8","#0c7bc0","#a300c2"]}, "legend": null},
"strokeDash": {"field": "s", "type": "nominal", "scale": {"domain": ["c","q","S1","S2","S3","S4"], "range": [[1,0],[1,0],[1,0],[1,0],[5,3],[1,0]]}, "legend": null}
}},
{"data": {"name": "jS"}, "transform": [{"fold": ["S4"], "as": ["s","y"]}, {"filter": "isValid(datum.y)"}], "mark": {"type": "line", "clip": true, "strokeWidth": 3.4},
"encoding": {
"x": {"field": "t", "type": "quantitative", "scale": {"domain": [0,150], "nice": false}, "axis": null},
"y": {"field": "y", "type": "quantitative", "scale": {"domain": [-3,3], "nice": false, "zero": false}, "axis": null},
"color": {"field": "s", "type": "nominal", "scale": {"domain": ["c","q","S1","S2","S3","S4"], "range": ["#c00000","#2ab000","#f9a602","#5d1dc8","#0c7bc0","#a300c2"]}, "legend": null}
}},
{"data": {"name": "jC"}, "transform": [{"fold": ["c","q"], "as": ["s","y"]}, {"filter": "isValid(datum.y)"}], "mark": {"type": "line", "clip": true, "strokeWidth": 1.8},
"encoding": {
"x": {"field": "t", "type": "quantitative", "scale": {"domain": [0,150], "nice": false}, "axis": {"orient": "top", "values": [0,50,100,150], "labels": false, "title": null, "grid": false}},
"y": {"field": "y", "type": "quantitative", "scale": {"domain": [-3,3], "nice": false, "zero": false}, "axis": {"orient": "right", "values": [-2,0,2], "labels": false, "title": null, "grid": false}},
"color": {"field": "s", "type": "nominal", "scale": {"domain": ["c","q","S1","S2","S3","S4"], "range": ["#c00000","#2ab000","#f9a602","#5d1dc8","#0c7bc0","#a300c2"]}, "legend": null},
"strokeDash": {"field": "s", "type": "nominal", "scale": {"domain": ["c","q","S1","S2","S3","S4"], "range": [[1,0],[1,0],[1,0],[1,0],[5,3],[1,0]]}, "legend": null}
}}
]},
{"width": 519, "height": 73,
"resolve": {"axis": {"x": "independent", "y": "independent"}},
"layer": [
{"data": {"values": [{"y": 4.5}, {"y": -4.5}]}, "mark": {"type": "rule", "color": "#ff1a1a", "strokeDash": [6,4], "strokeWidth": 1.5, "clip": true},
"encoding": {
"y": {"field": "y", "type": "quantitative", "scale": {"domain": [-6,6], "nice": false, "zero": false}, "axis": null}
}},
{"data": {"name": "ayS"}, "transform": [{"fold": ["S1","S2","S3","S4"], "as": ["s","y"]}, {"filter": "isValid(datum.y)"}], "mark": {"type": "line", "clip": true, "strokeWidth": 1.8},
"encoding": {
"x": {"field": "t", "type": "quantitative", "scale": {"domain": [0,150], "nice": false}, "axis": {"orient": "bottom", "values": [0,50,100,150], "labels": false, "title": null}},
"y": {"field": "y", "type": "quantitative", "scale": {"domain": [-6,6], "nice": false, "zero": false}, "axis": {"orient": "left", "values": [-5,0,5], "title": "aᵧ (m/s²)"}},
"color": {"field": "s", "type": "nominal", "scale": {"domain": ["c","q","S1","S2","S3","S4"], "range": ["#c00000","#2ab000","#f9a602","#5d1dc8","#0c7bc0","#a300c2"]}, "legend": null},
"strokeDash": {"field": "s", "type": "nominal", "scale": {"domain": ["c","q","S1","S2","S3","S4"], "range": [[1,0],[1,0],[1,0],[1,0],[5,3],[1,0]]}, "legend": null}
}},
{"data": {"name": "ayC"}, "transform": [{"fold": ["c","q"], "as": ["s","y"]}, {"filter": "isValid(datum.y)"}], "mark": {"type": "line", "clip": true, "strokeWidth": 1.8},
"encoding": {
"x": {"field": "t", "type": "quantitative", "scale": {"domain": [0,150], "nice": false}, "axis": {"orient": "top", "values": [0,50,100,150], "labels": false, "title": null, "grid": false}},
"y": {"field": "y", "type": "quantitative", "scale": {"domain": [-6,6], "nice": false, "zero": false}, "axis": {"orient": "right", "values": [-5,0,5], "labels": false, "title": null, "grid": false}},
"color": {"field": "s", "type": "nominal", "scale": {"domain": ["c","q","S1","S2","S3","S4"], "range": ["#c00000","#2ab000","#f9a602","#5d1dc8","#0c7bc0","#a300c2"]}, "legend": null},
"strokeDash": {"field": "s", "type": "nominal", "scale": {"domain": ["c","q","S1","S2","S3","S4"], "range": [[1,0],[1,0],[1,0],[1,0],[5,3],[1,0]]}, "legend": null}
}}
]},
{"width": 519, "height": 73,
"resolve": {"axis": {"x": "independent", "y": "independent"}},
"layer": [
{"data": {"name": "eyS"}, "transform": [{"fold": ["S1","S2","S3","S4"], "as": ["s","y"]}, {"filter": "isValid(datum.y)"}], "mark": {"type": "line", "clip": true, "strokeWidth": 1.8},
"encoding": {
"x": {"field": "t", "type": "quantitative", "scale": {"domain": [0,150], "nice": false}, "axis": {"orient": "bottom", "values": [0,50,100,150], "title": "Time (s)", "titleFontStyle": "normal", "titlePadding": 6}},
"y": {"field": "y", "type": "quantitative", "scale": {"domain": [-1,1], "nice": false, "zero": false}, "axis": {"orient": "left", "values": [-1,0,1], "format": ".0f", "title": "eᵧ (m)"}},
"color": {"field": "s", "type": "nominal", "scale": {"domain": ["c","q","S1","S2","S3","S4"], "range": ["#c00000","#2ab000","#f9a602","#5d1dc8","#0c7bc0","#a300c2"]}, "legend": null},
"strokeDash": {"field": "s", "type": "nominal", "scale": {"domain": ["c","q","S1","S2","S3","S4"], "range": [[1,0],[1,0],[1,0],[1,0],[5,3],[1,0]]}, "legend": null}
}},
{"data": {"name": "eyC"}, "transform": [{"fold": ["c","q"], "as": ["s","y"]}, {"filter": "isValid(datum.y)"}], "mark": {"type": "line", "clip": true, "strokeWidth": 1.8},
"encoding": {
"x": {"field": "t", "type": "quantitative", "scale": {"domain": [0,150], "nice": false}, "axis": {"orient": "top", "values": [0,50,100,150], "labels": false, "title": null, "grid": false}},
"y": {"field": "y", "type": "quantitative", "scale": {"domain": [-1,1], "nice": false, "zero": false}, "axis": {"orient": "right", "values": [-1,0,1], "labels": false, "title": null, "grid": false}},
"color": {"field": "s", "type": "nominal", "scale": {"domain": ["c","q","S1","S2","S3","S4"], "range": ["#c00000","#2ab000","#f9a602","#5d1dc8","#0c7bc0","#a300c2"]}, "legend": null},
"strokeDash": {"field": "s", "type": "nominal", "scale": {"domain": ["c","q","S1","S2","S3","S4"], "range": [[1,0],[1,0],[1,0],[1,0],[5,3],[1,0]]}, "legend": null}
}}
]}
]
}
